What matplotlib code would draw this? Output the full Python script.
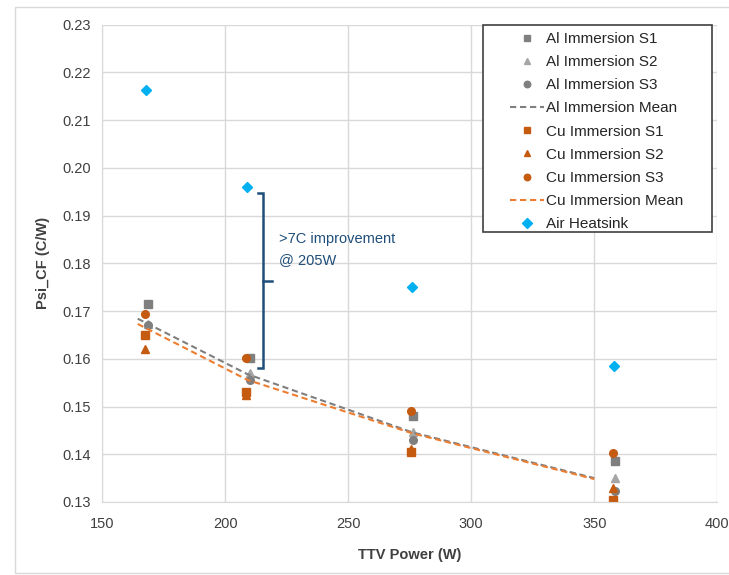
import matplotlib
matplotlib.use("Agg")
import matplotlib.pyplot as plt
from matplotlib.patches import Rectangle

plt.rcParams['font.family'] = ['Liberation Sans', 'DejaVu Sans']

# TTV power (W) for each group
al_power = [168.5, 210, 276.5, 358.5]
cu_power = [167.5, 208.5, 275.5, 357.5]
air_power = [168, 209, 276, 358]
mean_power = [164.5, 209, 276, 350]

# Psi_CF (C/W)
al_s1 = [0.1715, 0.1602, 0.1481, 0.1385]
al_s2 = [0.1672, 0.1570, 0.1447, 0.1350]
al_s3 = [0.1670, 0.1555, 0.1430, 0.1322]
al_mean = [0.1684, 0.1568, 0.1446, 0.1350]
cu_s1 = [0.1650, 0.1530, 0.1405, 0.1305]
cu_s2 = [0.1620, 0.1525, 0.1412, 0.1330]
cu_s3 = [0.1693, 0.1602, 0.1490, 0.1403]
cu_mean = [0.1673, 0.1556, 0.1444, 0.1348]
air = [0.2163, 0.1961, 0.1751, 0.1584]

gray = '#7f7f7f'
orange = '#c55a11'
blue = '#00b0f0'
navy = '#1f4e79'

W, H = 729, 575
fig = plt.figure(figsize=(W / 100, H / 100), dpi=100)
ax = fig.add_axes([0.140, 0.127, 0.844, 0.830])

ax.plot(al_power, al_s1, 's', color=gray, ms=5.5, label='Al Immersion S1')
ax.plot(al_power, al_s2, '^', color='#a5a5a5', ms=5.5, label='Al Immersion S2')
ax.plot(al_power, al_s3, 'o', color=gray, ms=5.5, label='Al Immersion S3')
ax.plot(mean_power, al_mean, '--', color=gray, lw=1.5, dashes=(3, 1.8), label='Al Immersion Mean')
ax.plot(cu_power, cu_s1, 's', color=orange, ms=5.5, label='Cu Immersion S1')
ax.plot(cu_power, cu_s2, '^', color=orange, ms=5.5, label='Cu Immersion S2')
ax.plot(cu_power, cu_s3, 'o', color=orange, ms=5.5, label='Cu Immersion S3')
ax.plot(mean_power, cu_mean, '--', color='#ed7d31', lw=1.5, dashes=(3, 1.8), label='Cu Immersion Mean')
ax.plot(air_power, air, 'D', color=blue, ms=5.5, label='Air Heatsink')

ax.set_xlim(150, 400)
ax.set_ylim(0.13, 0.23)
ax.set_xticks(range(150, 401, 50))
ax.set_yticks([0.13 + 0.01 * i for i in range(11)])
ax.set_yticklabels([f'{0.13 + 0.01 * i:.2f}' for i in range(11)])
ax.grid(True, color='#d9d9d9', lw=1)
ax.set_axisbelow(True)
for side in ['top', 'right']:
    ax.spines[side].set_visible(False)
for side in ['left', 'bottom']:
    ax.spines[side].set_color('#d9d9d9')
ax.tick_params(length=0, labelsize=10.5, colors='#404040', pad=8)
ax.tick_params(axis='x', pad=11)
ax.set_xlabel('TTV Power (W)', fontsize=10.5, fontweight='bold', color='#404040', labelpad=12)
ax.set_ylabel('Psi_CF (C/W)', fontsize=10.5, fontweight='bold', color='#404040', labelpad=9)

# legend box drawn separately: the original box is padded wide on the sides
box = Rectangle((483 / W, 1 - 232 / H), 229 / W, 207 / H, transform=fig.transFigure,
                facecolor='white', edgecolor='#404040', lw=1.2, zorder=4.5, clip_on=False)
ax.add_patch(box)
leg = ax.legend(loc='upper left', bbox_to_anchor=(510 / W, 1 - 32 / H),
                bbox_transform=fig.transFigure, fontsize=11,
                frameon=False, handlelength=2.2, handletextpad=0.15,
                labelspacing=0.6, borderpad=0, borderaxespad=0, markerscale=0.85)
for t in leg.get_texts():
    t.set_color('#262626')

# bracket showing the gap at ~205 W
bx, btop, bbot, bmid = 215.4, 0.1948, 0.1580, 0.1763
ax.plot([bx - 2, bx, bx, bx - 2], [btop, btop, bbot, bbot], color=navy, lw=1.8,
        solid_joinstyle='miter')
ax.plot([bx, bx + 3.5], [bmid, bmid], color=navy, lw=1.8)
ax.text(222, 0.1829, '>7C improvement\n@ 205W', color=navy, fontsize=10.5,
        va='center', ha='left', linespacing=1.7)

fig.patches.append(Rectangle((15 / W, 2 / H), 720 / W, 566 / H,
                             transform=fig.transFigure, fill=False,
                             edgecolor='#d9d9d9', lw=1))

fig.savefig('out.png', dpi=100)
